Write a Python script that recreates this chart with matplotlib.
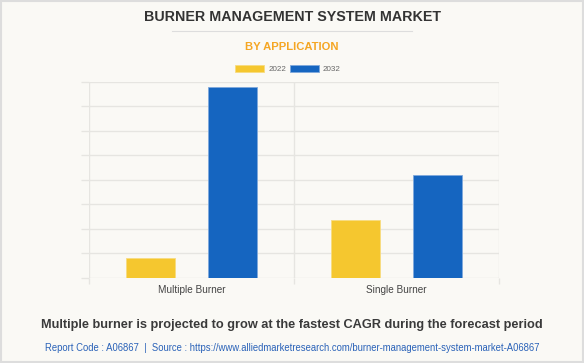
import matplotlib.pyplot as plt
import numpy as np
from matplotlib.patches import Rectangle
from matplotlib.lines import Line2D

plt.rcParams['font.family'] = ['Liberation Sans', 'DejaVu Sans']

# data
categories = ['Multiple Burner', 'Single Burner']
years = ['2022', '2032']
values_2022 = [0.80, 2.38]
values_2032 = [7.77, 4.19]

col_2022 = '#f5c72f'
col_2032 = '#1565c0'
bg = '#faf9f5'

fig = plt.figure(figsize=(5.84, 3.63), dpi=100)
fig.patch.set_facecolor(bg)
fig.add_artist(Rectangle((0.001, 0.002), 0.997, 0.995, transform=fig.transFigure,
                         fill=False, edgecolor='#dddddd', linewidth=1.5))

ax = fig.add_axes([89/584, 1 - 278/363, 410/584, 196.5/363])
ax.set_facecolor(bg)

x = np.arange(len(categories))
w = 0.24
ax.bar(x - 0.2, values_2022, w, color=col_2022, edgecolor='#f8dc80', linewidth=0.6, label=years[0], zorder=3)
ax.bar(x + 0.2, values_2032, w, color=col_2032, edgecolor='#7fa9dc', linewidth=0.6, label=years[1], zorder=3)

ax.set_xlim(-0.5, 1.5)
ax.set_ylim(0, 8)
ax.set_yticks(np.arange(0, 9, 1))
ax.set_yticklabels([])
ax.yaxis.grid(True, color='#e6e5e1', linewidth=1, zorder=0)
ax.tick_params(axis='y', length=6, color='#e6e5e1', width=1)

ax.set_xticks(x)
ax.set_xticklabels(categories, fontsize=7.2, color='#444444')
ax.tick_params(axis='x', which='major', length=0, pad=5)
ax.set_xticks([-0.5, 0.5, 1.5], minor=True)
ax.tick_params(axis='x', which='minor', length=4, color='#e6e5e1', width=1)
ax.xaxis.grid(True, which='minor', color='#e6e5e1', linewidth=1, zorder=0)
for s in ax.spines.values():
    s.set_visible(False)

# titles
fig.text(0.5, 1 - 17/363, 'BURNER MANAGEMENT SYSTEM MARKET', ha='center', va='center',
         fontsize=10.3, fontweight='bold', color='#333333')
fig.add_artist(Line2D([172/584, 412/584], [1 - 31/363, 1 - 31/363], color='#dddddd', linewidth=0.8))
fig.text(0.5, 1 - 47/363, 'BY APPLICATION', ha='center', va='center',
         fontsize=8.1, fontweight='bold', color='#f5a623')

leg = fig.legend(loc='center', bbox_to_anchor=(288/584, 1 - 69/363), ncol=2, frameon=False,
                 fontsize=5.8, handlelength=3.6, handleheight=1.0, columnspacing=0.5,
                 handletextpad=0.5)
for t in leg.get_texts():
    t.set_color('#666666')

fig.text(0.5, 1 - 325/363, 'Multiple burner is projected to grow at the fastest CAGR during the forecast period',
         ha='center', va='center', fontsize=9.2, fontweight='bold', color='#3a3a3a')
fig.text(0.5, 1 - 348/363,
         'Report Code : A06867  |  Source : https://www.alliedmarketresearch.com/burner-management-system-market-A06867',
         ha='center', va='center', fontsize=6.85, color='#2a62b8')

fig.savefig('out.png', dpi=100, facecolor=bg)
